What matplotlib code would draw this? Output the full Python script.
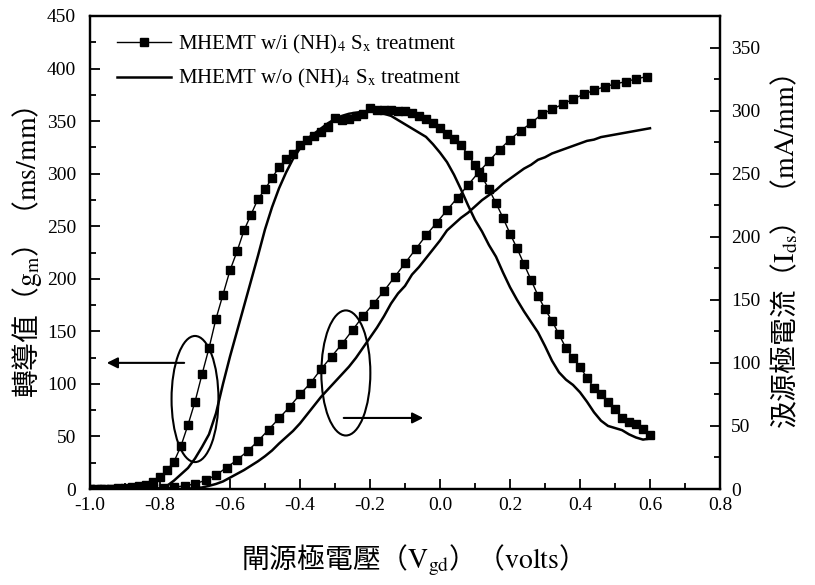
import numpy as np
import matplotlib
matplotlib.use('Agg')
from matplotlib import pyplot as plt
from matplotlib.patches import Ellipse
from matplotlib.ticker import MultipleLocator, FormatStrFormatter

plt.rcParams['font.family'] = ['Liberation Serif', 'Noto Sans CJK TC']
plt.rcParams['mathtext.fontset'] = 'stix'
plt.rcParams['axes.unicode_minus'] = False

# gate sweep, 0.02 V step for gm and the untreated Ids, 0.03 V step for the treated Ids
vg = np.round(np.linspace(-1.0, 0.6, 81), 2)
vg_ids = np.round(np.linspace(-1.0, 0.59, 54), 2)

# transconductance (ms/mm)
gm_w = [0, 0, 0, 0, 0.5, 1, 1.5, 2.5, 4, 7,
        11, 18, 26, 41, 61, 83, 109, 134, 162, 185,
        208, 226, 246, 261, 276, 285, 296, 306, 314, 319,
        327, 332, 336, 340, 344, 353, 351, 352, 355, 357,
        362, 361, 361, 361, 360, 360, 358, 355, 352, 348,
        343, 338, 333, 327, 318, 308, 297, 285, 272, 258,
        243, 229, 214, 199, 184, 171, 160, 147, 134, 125,
        116, 106, 96, 90, 83, 76, 68, 64, 62, 57,
        51]
gm_wo = [0, 0, 0, 0, 0, 0, 0, 0, 0, 0.2,
         0.5, 3, 8, 14, 20, 29, 40, 52, 72, 100,
         126, 150, 174, 198, 222, 247, 268, 286, 301, 314,
         324, 333, 338, 343, 348, 352, 355, 357, 358, 359,
         360, 359, 357, 355, 351, 347, 343, 339, 335, 328,
         320, 311, 299, 285, 270, 256, 245, 232, 221, 206,
         192, 180, 169, 159, 149, 136, 122, 111, 104, 99,
         92, 83, 73, 65, 60, 58, 56, 52, 49, 47,
         48]

# drain current (mA/mm)
ids_w = [0, 0, 0, 0, 0, 0.3, 0.6, 1, 1.5, 2.5,
         4, 7, 11, 17, 23, 30, 38, 47, 56, 65,
         75, 84, 95, 105, 115, 126, 137, 147, 157, 168,
         179, 190, 201, 211, 221, 231, 241, 251, 260, 269,
         277, 284, 290, 297, 301, 305, 309, 313, 316, 319,
         321, 323, 325, 327]
ids_wo = [0, 0, 0, 0, 0, 0, 0, 0, 0, 0,
          0, 0, 0, 0, 0.3, 0.6, 1.2, 2.5, 4, 6,
          9, 12, 15, 18.5, 22, 26, 30.5, 36, 41, 46,
          52, 59, 66, 73, 79, 85, 91, 97, 104, 112,
          120, 128, 137, 147, 155, 161, 170, 176, 183, 190,
          197, 205, 210, 215, 219, 224, 229, 233, 237, 242,
          246, 250, 254, 257, 261, 263, 266, 268, 270, 272,
          274, 276, 277, 279, 280, 281, 282, 283, 284, 285,
          286]

lbl_w = r'MHEMT w/i (NH)$_\mathrm{4}$ S$_\mathrm{x}$ treatment'
lbl_wo = r'MHEMT w/o (NH)$_\mathrm{4}$ S$_\mathrm{x}$ treatment'

fig = plt.figure(figsize=(8.15, 5.85), dpi=100)
ax = fig.add_axes([90 / 815, 96 / 585, 630 / 815, 473 / 585])
ax2 = ax.twinx()

ax.plot(vg, gm_w, 'k-', lw=1, marker='s', ms=6.3, label=lbl_w)
ax.plot(vg, gm_wo, 'k-', lw=1.8, label=lbl_wo)
ax2.plot(vg_ids, ids_w, 'k-', lw=1, marker='s', ms=6.3)
ax2.plot(vg, ids_wo, 'k-', lw=1.8)

ax.set_xlim(-1.0, 0.8)
ax.set_ylim(0, 450)
ax2.set_ylim(0, 375)
ax.xaxis.set_major_locator(MultipleLocator(0.2))
ax.xaxis.set_minor_locator(MultipleLocator(0.1))
ax.xaxis.set_major_formatter(FormatStrFormatter('%.1f'))
ax.yaxis.set_major_locator(MultipleLocator(50))
ax.yaxis.set_minor_locator(MultipleLocator(25))
ax2.yaxis.set_major_locator(MultipleLocator(50))
ax2.yaxis.set_minor_locator(MultipleLocator(25))
ax2.set_yticks(np.arange(0, 351, 50))

for a in (ax, ax2):
    for s in a.spines.values():
        s.set_linewidth(1.6)
    a.tick_params(which='both', direction='in', labelsize=14, width=1.3)
    a.tick_params(which='major', length=7)
    a.tick_params(which='minor', length=4)
ax.tick_params(axis='y', pad=10)
ax2.tick_params(axis='y', pad=8)
ax.tick_params(axis='x', pad=6)

ax.set_ylabel(r'轉導值（$\mathrm{g_m}$）（$\mathrm{ms/mm}$）', family='Noto Sans CJK TC',
              fontsize=20, labelpad=2)
ax2.set_ylabel(r'汲源極電流（$\mathrm{I_{ds}}$）（$\mathrm{mA/mm}$）', family='Noto Sans CJK TC',
               fontsize=20, labelpad=6)
ax.set_xlabel(r'閘源極電壓（$\mathrm{V_{gd}}$）（$\mathrm{volts}$）', family='Noto Sans CJK TC',
              fontsize=20, labelpad=20)

# ellipses and arrows marking which axis each pair belongs to
ax.add_patch(Ellipse((-0.70, 85.6), 0.134, 120, fill=False, lw=1.5, ec='k', zorder=5))
ax.add_patch(Ellipse((-0.269, 110.4), 0.14, 119, fill=False, lw=1.5, ec='k', zorder=5))
ax.annotate('', xy=(-0.96, 120), xytext=(-0.723, 120),
            arrowprops=dict(arrowstyle='-|>', color='k', lw=1.5, mutation_scale=16))
ax.annotate('', xy=(-0.04, 67.6), xytext=(-0.283, 67.6),
            arrowprops=dict(arrowstyle='-|>', color='k', lw=1.5, mutation_scale=16))

ax.legend(loc='upper left', frameon=False, fontsize=15, handlelength=2.6,
          numpoints=1, labelspacing=0.55, handletextpad=0.3,
          bbox_to_anchor=(0.02, 0.995), borderaxespad=0.3)

fig.savefig('out.png', dpi=100)
